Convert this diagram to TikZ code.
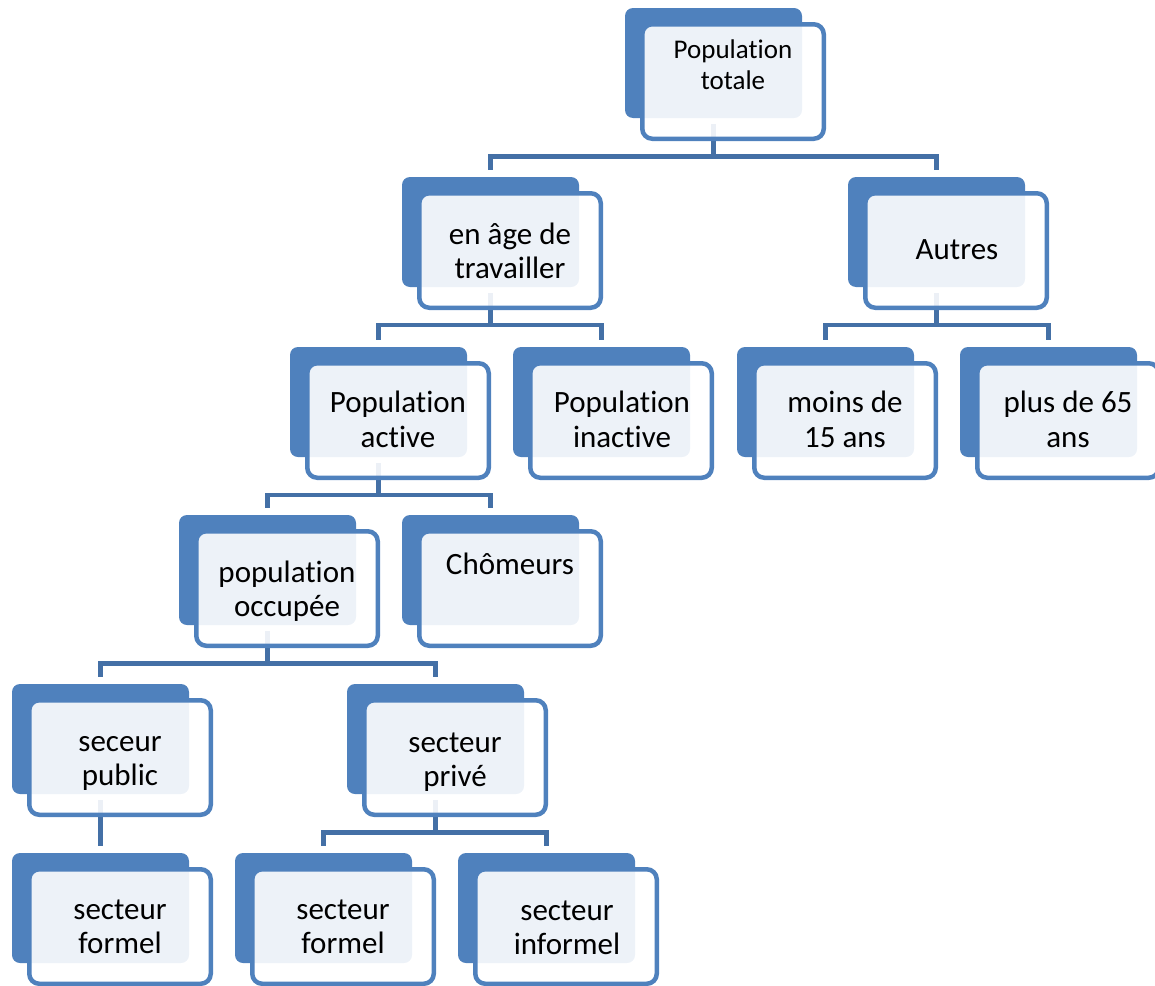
\documentclass[tikz,border=0pt]{standalone}
\usepackage{fontspec}
\setmainfont{Carlito}[Ligatures={NoCommon,NoContextual}]
\definecolor{bk}{HTML}{4F81BD}
\definecolor{ln}{HTML}{4470A6}
\tikzset{
  backbox/.style={fill=bk, draw=none, rounded corners=8pt, minimum width=177pt, minimum height=110pt, inner sep=0pt},
  frontbox/.style={draw=bk, line width=4.5pt, fill=white, fill opacity=0.9, rounded corners=10pt, minimum width=181.5pt, minimum height=114.5pt, inner sep=0pt},
  conn/.style={draw=ln, line width=4.5pt},
  lbl/.style={align=center, font=\fontsize{31}{34.5}\selectfont, inner sep=0pt, text=black},
  lblsmall/.style={lbl, font=\fontsize{27}{31}\selectfont}
}
\begin{document}
\begin{tikzpicture}[x=1pt,y=-1pt]
\path[use as bounding box] (0,0) rectangle (1155,985);
\clip (0,0) rectangle (1155,985);
% back boxes
\foreach \n/\x/\y in {tot/625/8, age/402/177, aut/848/177, act/290/347, ina/513/347,
  moi/737/347, plu/960/347, occ/179/515, cho/402/515, pub/12/684, pri/347/684,
  foa/12/853, fob/235/853, inf/458/853}
  \node[backbox] (\n) at (\x+88.5,\y+55) {};
% bar levels
\coordinate (b1) at (0,156.5);
\coordinate (b2) at (0,325);
\coordinate (b3) at (0,495);
\coordinate (b4) at (0,663.5);
\coordinate (b5) at (0,832.5);
% connectors
\draw[conn] ([yshift=-6pt]tot.south) -- (tot.south |- b1) -| ([yshift=6.5pt]age.north);
\draw[conn] (tot.south |- b1) -| ([yshift=6.5pt]aut.north);
\draw[conn] ([yshift=-6pt]age.south) -- (age.south |- b2) -| ([yshift=6.5pt]act.north);
\draw[conn] (age.south |- b2) -| ([yshift=6.5pt]ina.north);
\draw[conn] ([yshift=-6pt]aut.south) -- (aut.south |- b2) -| ([yshift=6.5pt]moi.north);
\draw[conn] (aut.south |- b2) -| ([yshift=6.5pt]plu.north);
\draw[conn] ([yshift=-6pt]act.south) -- (act.south |- b3) -| ([yshift=6.5pt]occ.north);
\draw[conn] (act.south |- b3) -| ([yshift=6.5pt]cho.north);
\draw[conn] ([yshift=-6pt]occ.south) -- (occ.south |- b4) -| ([yshift=6.5pt]pub.north);
\draw[conn] (occ.south |- b4) -| ([yshift=6.5pt]pri.north);
\draw[conn] ([yshift=-6pt]pub.south) -- ([yshift=6.5pt]foa.north);
\draw[conn] ([yshift=-6pt]pri.south) -- (pri.south |- b5) -| ([yshift=6.5pt]fob.north);
\draw[conn] (pri.south |- b5) -| ([yshift=6.5pt]inf.north);
% front boxes
\foreach \n in {tot, age, aut, act, ina, moi, plu, occ, cho, pub, pri, foa, fob, inf}
  \node[frontbox] (\n-f) at ([xshift=19.5pt,yshift=-18.5pt]\n.center) {};
% labels
\node[lblsmall] (tot-t) at ([xshift=19.5pt,yshift=-5pt]tot.center) {\strut Population\\\strut totale};
\node[lbl] (age-t) at ([xshift=19.5pt,yshift=-22.5pt]age.center) {\strut en âge de\\\strut travailler};
\node[lbl] (aut-t) at ([xshift=20.5pt,yshift=-21pt]aut.center) {\strut Autres};
\node[lbl] (act-t) at ([xshift=19.5pt,yshift=-21pt]act.center) {\strut Population\\\strut active};
\node[lbl] (ina-t) at ([xshift=20.5pt,yshift=-21pt]ina.center) {\strut Population\\\strut inactive};
\node[lbl] (moi-t) at ([xshift=19.5pt,yshift=-21pt]moi.center) {\strut moins de\\\strut 15 ans};
\node[lbl] (plu-t) at ([xshift=19.5pt,yshift=-21pt]plu.center) {\strut plus de 65\\\strut ans};
\node[lbl] (occ-t) at ([xshift=19.5pt,yshift=-22.5pt]occ.center) {\strut population\\\strut occupée};
\node[lbl] (cho-t) at ([xshift=19.5pt,yshift=2pt]cho.center) {\strut Chômeurs};
\node[lbl] (pub-t) at ([xshift=19.5pt,yshift=-22.5pt]pub.center) {\strut seceur\\\strut public};
\node[lbl] (pri-t) at ([xshift=19.5pt,yshift=-23.5pt]pri.center) {\strut secteur\\\strut privé};
\node[lbl] (foa-t) at ([xshift=19.5pt,yshift=-21.5pt]foa.center) {\strut secteur\\\strut formel};
\node[lbl] (fob-t) at ([xshift=19.5pt,yshift=-21.5pt]fob.center) {\strut secteur\\\strut formel};
\node[lbl] (inf-t) at ([xshift=20.5pt,yshift=-22.5pt]inf.center) {\strut secteur\\\strut informel};
\end{tikzpicture}
\end{document}
